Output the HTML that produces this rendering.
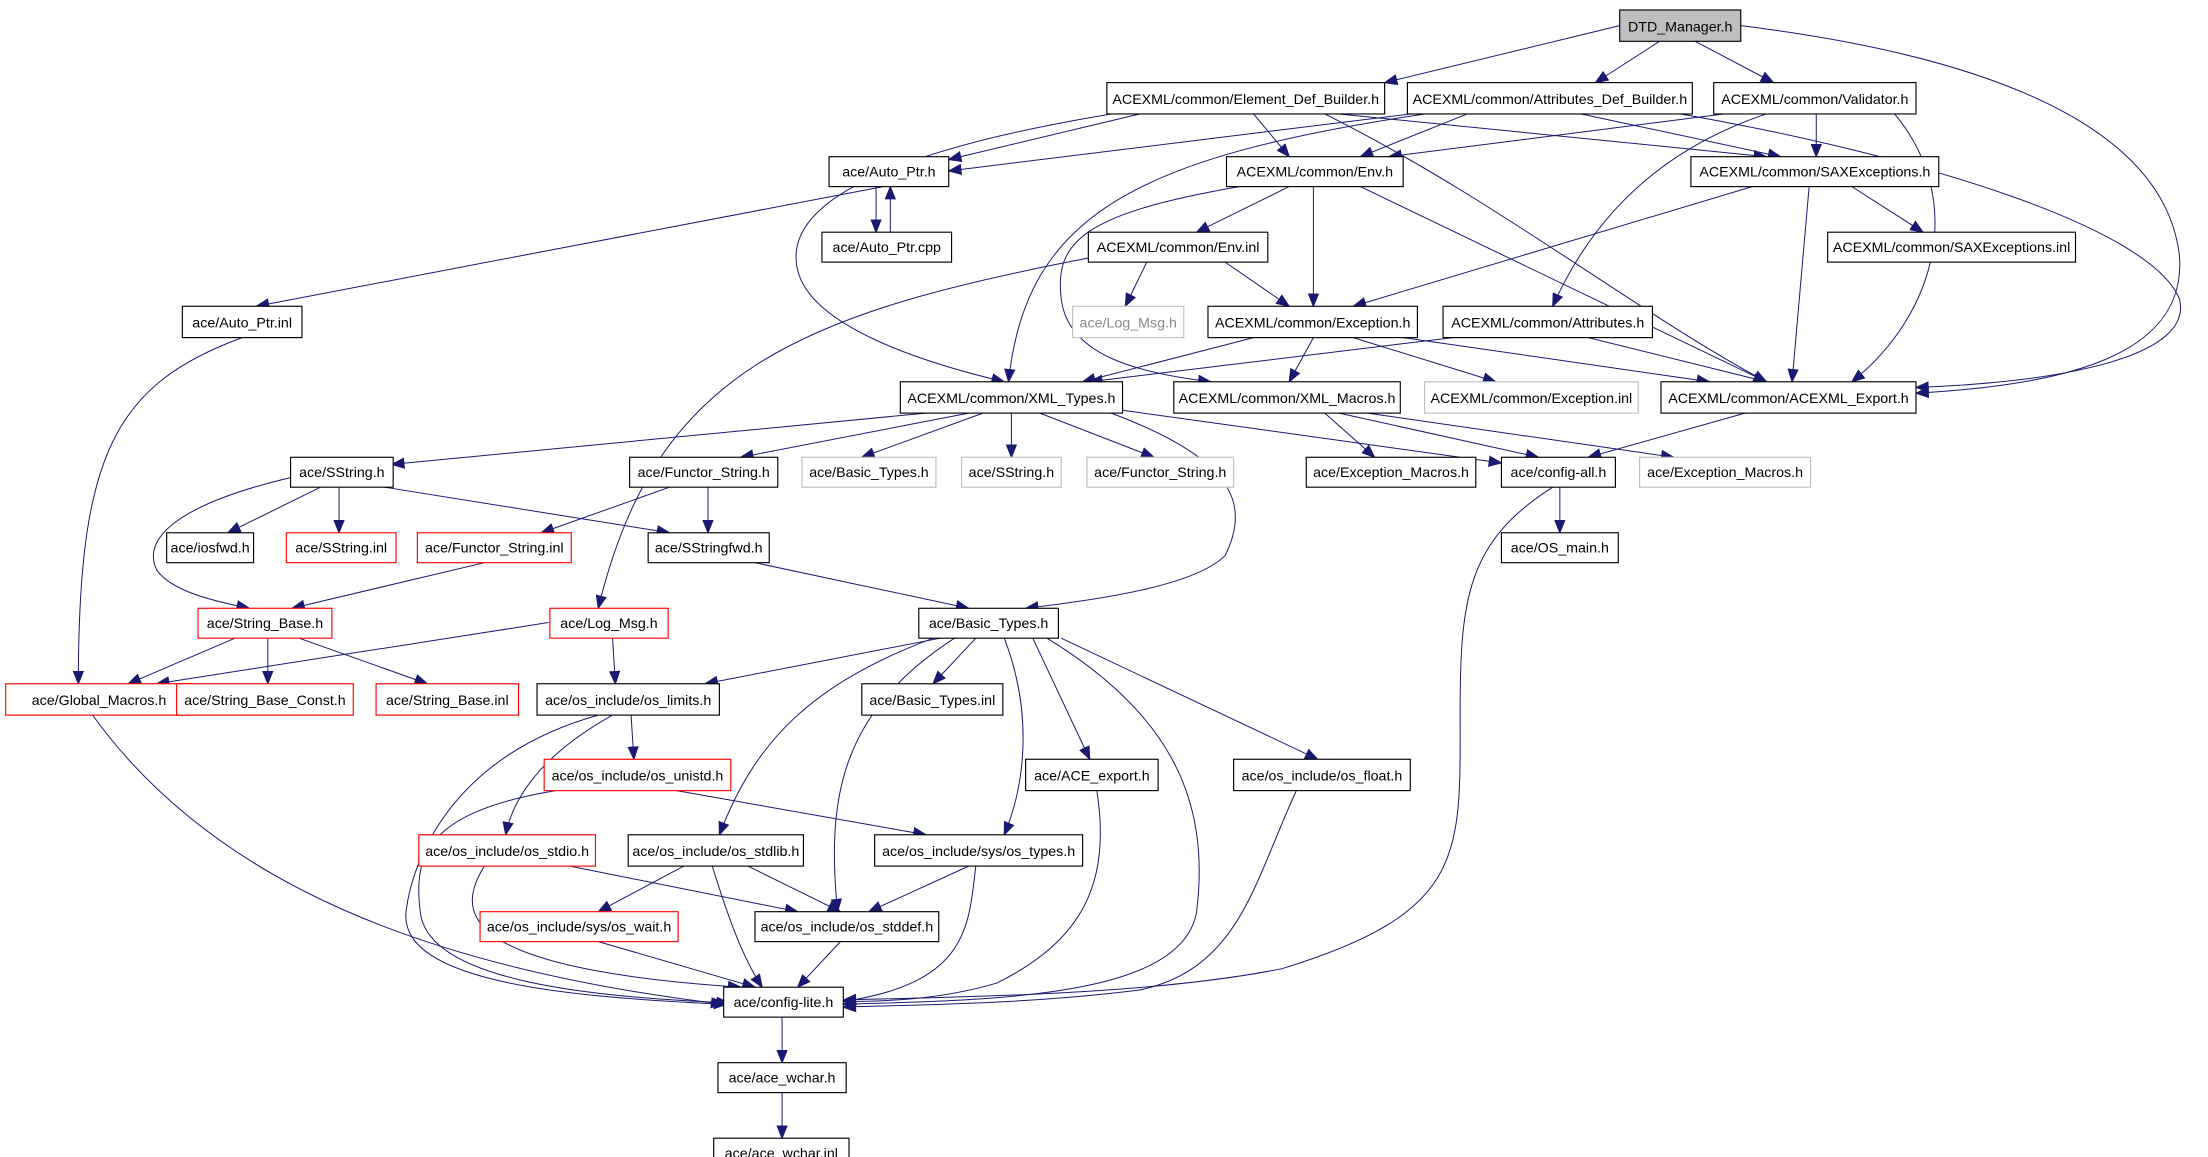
<!DOCTYPE html>
<html><head><meta charset="utf-8"><style>html,body{margin:0;padding:0;background:#fff}svg{display:block}</style></head><body>
<svg width="2208" height="1157" viewBox="0 0 1550 812.2" preserveAspectRatio="none" xmlns="http://www.w3.org/2000/svg" font-family="Liberation Sans, sans-serif" font-size="10">
<defs><marker id="a" markerUnits="userSpaceOnUse" markerWidth="10" markerHeight="8" refX="9" refY="4" orient="auto"><path d="M0,0 L10,4 L0,8 z" fill="#191970"/></marker></defs>
<g fill="none" stroke="#191970" stroke-width="0.7" marker-end="url(#a)">
<path d="M1137,18 L972,58"/>
<path d="M1165,29 L1120,58"/>
<path d="M1190,29 L1245,58"/>
<path d="M1222,18 C1400,40 1520,90 1530,180 C1535,250 1450,270 1345,276"/>
<path d="M800,80 L666,112"/>
<path d="M780,80 C600,110 550,150 560,190 C570,230 650,255 705,268"/>
<path d="M880,80 L905,110"/>
<path d="M940,80 L1240,110"/>
<path d="M930,80 C1050,140 1150,220 1240,268"/>
<path d="M990,80 L666,120"/>
<path d="M1030,80 L955,110"/>
<path d="M1110,80 L1250,110"/>
<path d="M1000,80 C800,110 720,150 708,268"/>
<path d="M1180,80 C1350,110 1510,160 1530,210 C1540,250 1450,268 1345,272"/>
<path d="M1330,80 C1380,140 1360,220 1300,268"/>
<path d="M1210,80 L975,110"/>
<path d="M1275,80 L1275,110"/>
<path d="M1240,80 C1150,110 1110,170 1090,215"/>
<path d="M615,131 L615,163"/>
<path d="M625,163 L625,131"/>
<path d="M620,131 L180,215"/>
<path d="M905,131 L840,163"/>
<path d="M922,131 L922,215"/>
<path d="M955,131 L1240,268"/>
<path d="M870,131 C760,150 740,170 745,210 C750,250 800,262 850,268"/>
<path d="M1230,131 L950,215"/>
<path d="M1300,131 L1350,163"/>
<path d="M1270,131 L1258,268"/>
<path d="M805,184 L790,215"/>
<path d="M860,184 L905,215"/>
<path d="M770,180 C560,220 460,260 420,427"/>
<path d="M170,237 C80,270 55,320 55,480"/>
<path d="M880,237 L760,268"/>
<path d="M922,237 L905,268"/>
<path d="M950,237 L1050,268"/>
<path d="M985,237 L1200,268"/>
<path d="M1020,237 L765,268"/>
<path d="M1115,237 L1240,268"/>
<path d="M930,290 L965,321"/>
<path d="M940,290 L1080,321"/>
<path d="M960,290 L1175,321"/>
<path d="M1225,290 L1115,321"/>
<path d="M650,290 L275,326"/>
<path d="M680,290 L520,321"/>
<path d="M690,290 L605,321"/>
<path d="M710,290 L710,321"/>
<path d="M730,290 L810,321"/>
<path d="M788,288 L1054,325"/>
<path d="M780,290 C860,320 880,350 860,390 C840,410 780,420 720,427"/>
<path d="M225,342 L160,374"/>
<path d="M238,342 L238,374"/>
<path d="M270,342 L470,374"/>
<path d="M205,335 C120,355 100,380 110,400 C120,415 150,422 175,427"/>
<path d="M470,342 L380,374"/>
<path d="M497,342 L497,374"/>
<path d="M340,395 L205,427"/>
<path d="M530,395 L680,427"/>
<path d="M1095,342 L1095,374"/>
<path d="M1090,342 C1030,380 1025,420 1025,500 C1025,600 1030,640 900,680 C800,700 650,700 592,702"/>
<path d="M165,448 L90,480"/>
<path d="M188,448 L188,480"/>
<path d="M210,448 L300,480"/>
<path d="M385,437 L110,480"/>
<path d="M430,448 L432,480"/>
<path d="M660,448 L495,480"/>
<path d="M685,448 L655,480"/>
<path d="M725,448 L765,533"/>
<path d="M745,448 L925,533"/>
<path d="M655,448 C570,480 530,520 505,586"/>
<path d="M670,448 C590,500 580,560 588,640"/>
<path d="M705,448 C725,500 720,550 705,586"/>
<path d="M735,448 C820,500 850,560 840,640 C830,700 700,702 592,705"/>
<path d="M65,502 C150,620 300,680 508,705"/>
<path d="M420,502 C320,530 290,600 285,640 C280,690 400,700 510,705"/>
<path d="M430,502 C380,530 360,560 355,586"/>
<path d="M443,502 L445,533"/>
<path d="M475,555 L650,586"/>
<path d="M390,555 C300,570 290,600 295,640 C300,690 420,700 512,704"/>
<path d="M770,555 C780,620 760,660 700,690 C660,702 620,703 592,703"/>
<path d="M910,555 C880,620 870,680 800,695 C720,705 650,705 592,707"/>
<path d="M400,608 L560,640"/>
<path d="M340,608 C320,640 320,680 520,693"/>
<path d="M480,608 L420,640"/>
<path d="M525,608 L590,640"/>
<path d="M500,608 C510,640 520,670 535,693"/>
<path d="M680,608 L610,640"/>
<path d="M685,608 C680,650 680,690 592,703"/>
<path d="M420,661 L530,693"/>
<path d="M590,661 L560,693"/>
<path d="M549,714 L549,746"/>
<path d="M549,767 L549,799"/>
</g>
<g stroke-width="0.8">
<rect x="1137" y="7" width="85" height="22" fill="#bfbfbf" stroke="#000"/>
<g fill="#fff" stroke="#000">
<rect x="777" y="58" width="195" height="22"/><rect x="988" y="58" width="200" height="22"/><rect x="1203" y="58" width="142" height="22"/>
<rect x="582" y="110" width="84" height="21"/><rect x="861" y="110" width="124" height="21"/><rect x="1187" y="110" width="174" height="21"/>
<rect x="577" y="163" width="91" height="21"/><rect x="764" y="163" width="126" height="21"/><rect x="1283" y="163" width="174" height="21"/>
<rect x="128" y="215" width="84" height="22"/><rect x="848" y="215" width="147" height="22"/><rect x="1013" y="215" width="147" height="22"/>
<rect x="632" y="268" width="156" height="22"/><rect x="824" y="268" width="159" height="22"/><rect x="1166" y="268" width="179" height="22"/>
<rect x="204" y="321" width="72" height="21"/><rect x="442" y="321" width="104" height="21"/><rect x="917" y="321" width="119" height="21"/><rect x="1054" y="321" width="80" height="21"/>
<rect x="117" y="374" width="61" height="21"/><rect x="455" y="374" width="85" height="21"/><rect x="1054" y="374" width="82" height="21"/>
<rect x="645" y="427" width="98" height="21"/>
<rect x="377" y="480" width="128" height="22"/><rect x="605" y="480" width="99" height="22"/>
<rect x="720" y="533" width="93" height="22"/><rect x="866" y="533" width="124" height="22"/>
<rect x="441" y="586" width="123" height="22"/><rect x="614" y="586" width="146" height="22"/>
<rect x="530" y="640" width="129" height="21"/><rect x="508" y="693" width="84" height="21"/><rect x="504" y="746" width="90" height="21"/><rect x="501" y="799" width="95" height="21"/>
</g>
<g fill="#fff" stroke="#bfbfbf">
<rect x="753" y="215" width="78" height="22"/><rect x="1000" y="268" width="150" height="22"/>
<rect x="563" y="321" width="94" height="21"/><rect x="675" y="321" width="70" height="21"/><rect x="763" y="321" width="103" height="21"/><rect x="1151" y="321" width="120" height="21"/>
</g>
<g fill="#fff" stroke="#f00">
<rect x="201" y="374" width="77" height="21"/><rect x="293" y="374" width="108" height="21"/>
<rect x="139" y="427" width="94" height="21"/><rect x="386" y="427" width="83" height="21"/>
<rect x="4" y="480" width="131" height="22"/><rect x="124" y="480" width="124" height="22"/><rect x="264" y="480" width="100" height="22"/>
<rect x="382" y="533" width="131" height="22"/><rect x="294" y="586" width="124" height="22"/><rect x="337" y="640" width="139" height="21"/>
</g>
</g>
<g text-anchor="middle" fill="#000" lengthAdjust="spacingAndGlyphs">
<text x="1179.5" y="22">DTD_Manager.h</text>
<text x="874.5" y="73">ACEXML/common/Element_Def_Builder.h</text>
<text x="1088" y="73">ACEXML/common/Attributes_Def_Builder.h</text>
<text x="1274" y="73">ACEXML/common/Validator.h</text>
<text x="624" y="124">ace/Auto_Ptr.h</text>
<text x="923" y="124">ACEXML/common/Env.h</text>
<text x="1274" y="124">ACEXML/common/SAXExceptions.h</text>
<text x="622.5" y="177">ace/Auto_Ptr.cpp</text>
<text x="827" y="177">ACEXML/common/Env.inl</text>
<text x="1370" y="177">ACEXML/common/SAXExceptions.inl</text>
<text x="170" y="230">ace/Auto_Ptr.inl</text>
<text x="792" y="230" fill="#888">ace/Log_Msg.h</text>
<text x="921.5" y="230">ACEXML/common/Exception.h</text>
<text x="1086.5" y="230">ACEXML/common/Attributes.h</text>
<text x="710" y="283">ACEXML/common/XML_Types.h</text>
<text x="903.5" y="283">ACEXML/common/XML_Macros.h</text>
<text x="1075" y="283">ACEXML/common/Exception.inl</text>
<text x="1255.5" y="283">ACEXML/common/ACEXML_Export.h</text>
<text x="240" y="335">ace/SString.h</text>
<text x="494" y="335">ace/Functor_String.h</text>
<text x="610" y="335">ace/Basic_Types.h</text>
<text x="710" y="335">ace/SString.h</text>
<text x="814.5" y="335">ace/Functor_String.h</text>
<text x="976.5" y="335">ace/Exception_Macros.h</text>
<text x="1094" y="335">ace/config-all.h</text>
<text x="1211" y="335">ace/Exception_Macros.h</text>
<text x="147.5" y="388">ace/iosfwd.h</text>
<text x="239.5" y="388">ace/SString.inl</text>
<text x="347" y="388">ace/Functor_String.inl</text>
<text x="497.5" y="388">ace/SStringfwd.h</text>
<text x="1095" y="388">ace/OS_main.h</text>
<text x="186" y="441">ace/String_Base.h</text>
<text x="427.5" y="441">ace/Log_Msg.h</text>
<text x="694" y="441">ace/Basic_Types.h</text>
<text x="69.5" y="495">ace/Global_Macros.h</text>
<text x="186" y="495">ace/String_Base_Const.h</text>
<text x="314" y="495">ace/String_Base.inl</text>
<text x="441" y="495">ace/os_include/os_limits.h</text>
<text x="654.5" y="495">ace/Basic_Types.inl</text>
<text x="447.5" y="548">ace/os_include/os_unistd.h</text>
<text x="766.5" y="548">ace/ACE_export.h</text>
<text x="928" y="548">ace/os_include/os_float.h</text>
<text x="356" y="601">ace/os_include/os_stdio.h</text>
<text x="502.5" y="601">ace/os_include/os_stdlib.h</text>
<text x="687" y="601">ace/os_include/sys/os_types.h</text>
<text x="406.5" y="654">ace/os_include/sys/os_wait.h</text>
<text x="594.5" y="654">ace/os_include/os_stddef.h</text>
<text x="550" y="707">ace/config-lite.h</text>
<text x="549" y="760">ace/ace_wchar.h</text>
<text x="548.5" y="813">ace/ace_wchar.inl</text>
</g>
<g fill="#888" text-anchor="middle"></g>
</svg>
<style>text{font-stretch:condensed}</style>
<script></script>
</body></html>
